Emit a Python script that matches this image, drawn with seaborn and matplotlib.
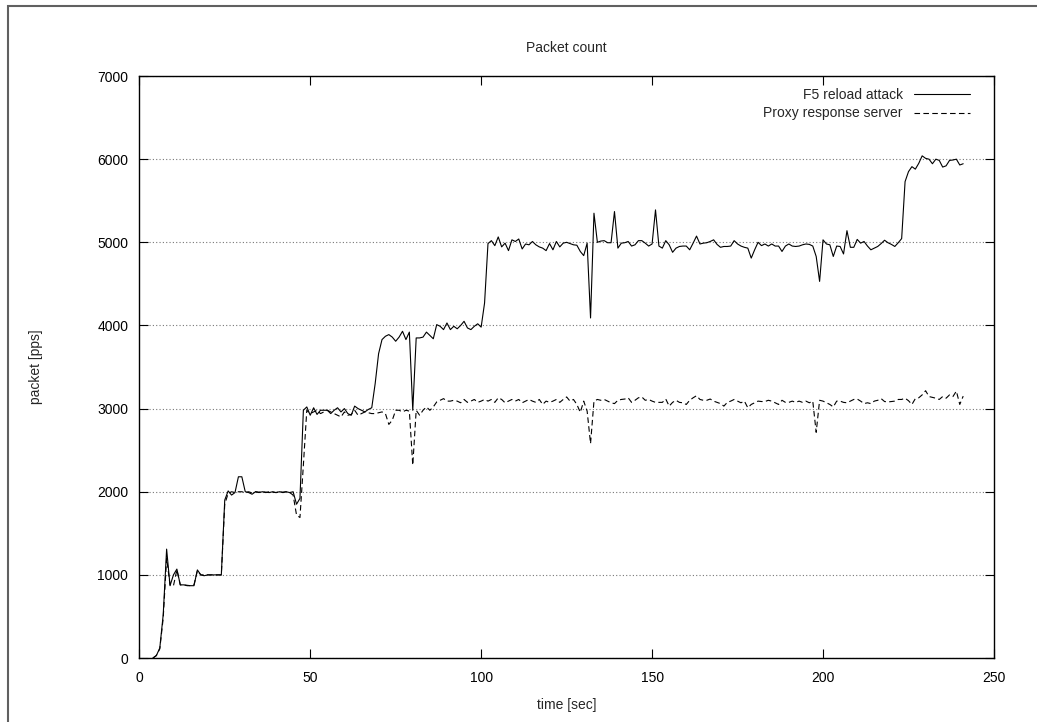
import numpy as np
import matplotlib
matplotlib.use("Agg")
import matplotlib.pyplot as plt
from matplotlib.patches import Rectangle
import seaborn as sns

# Un point par seconde, a partir de t = 4 s
premiere_seconde = 4

f5_reload = [
    0, 30, 120, 520, 1310, 870, 1000, 1070, 880, 880,
    875, 870, 870, 1060, 1000, 990, 1000, 1000, 1000, 1000,
    1000, 1900, 2010, 1960, 1990, 2180, 2180, 2000, 1990, 1970,
    2000, 1990, 2000, 1995, 1990, 2000, 1990, 2000, 1995, 2000,
    1990, 2000, 1850, 1920, 2980, 3020, 2920, 3010, 2930, 2980,
    2980, 2980, 2940, 2980, 3010, 2960, 3000, 2940, 2920, 3030,
    3000, 2980, 2960, 2990, 3010, 3300, 3660, 3830, 3870, 3890,
    3860, 3810, 3860, 3930, 3830, 3920, 2980, 3850, 3850, 3860,
    3920, 3880, 3840, 4010, 3990, 3950, 4030, 3950, 3990, 3960,
    4000, 4050, 3970, 3950, 3990, 4020, 3980, 4270, 4985, 5020,
    4960, 5065, 4945, 4990, 4900, 5030, 5010, 5040, 4920, 4980,
    4970, 5010, 4970, 4945, 4930, 4900, 4985, 4910, 5010, 4945,
    4990, 5000, 4985, 4970, 4965, 4890, 4840, 4990, 4090, 5350,
    5000, 5015, 5020, 4995, 4995, 5370, 4930, 4990, 4995, 5010,
    4955, 4970, 5020, 5020, 4990, 4955, 4980, 5390, 4955, 4930,
    5020, 4970, 4880, 4930, 4950, 4955, 4955, 4910, 4990, 5075,
    4980, 4990, 4995, 5010, 5030, 4975, 4940, 4950, 4950, 4955,
    5020, 4980, 4955, 4940, 4930, 4810, 4910, 5000, 4960, 4980,
    4955, 4980, 4955, 4955, 4890, 4955, 4980, 4955, 4950, 4955,
    4970, 4980, 4975, 4955, 4830, 4530, 5030, 4980, 4970, 4830,
    4955, 4950, 4860, 5140, 4940, 4940, 5035, 4990, 5010, 4955,
    4910, 4930, 4950, 4985, 5025, 4995, 4975, 4950, 4995, 5045,
    5730, 5850, 5910, 5880, 5950, 6040, 6010, 6000, 5945, 6000,
    5985, 5905, 5920, 5985, 5990, 6000, 5930, 5945,
]

proxy_reponse = [
    0, 30, 110, 480, 1200, 880, 870, 1060, 880, 880,
    870, 870, 880, 1050, 1000, 1000, 1000, 1000, 1000, 1000,
    1000, 1850, 1980, 2000, 1990, 2000, 2000, 1990, 2000, 1985,
    2000, 1995, 2000, 1990, 2000, 1995, 1990, 2000, 1990, 2000,
    1990, 1960, 1720, 1690, 2320, 2980, 2940, 2960, 2980, 2940,
    2960, 2980, 2960, 2940, 2920, 2900, 2960, 2920, 2930, 2980,
    2920, 2940, 2960, 2950, 2940, 2940, 2950, 2960, 2940, 2810,
    2860, 2980, 2980, 2960, 2980, 2970, 2320, 2980, 2920, 2980,
    3020, 2980, 3020, 3080, 3100, 3120, 3090, 3090, 3100, 3090,
    3070, 3110, 3075, 3090, 3110, 3075, 3090, 3110, 3090, 3110,
    3075, 3130, 3110, 3070, 3090, 3110, 3090, 3110, 3070, 3090,
    3110, 3090, 3075, 3110, 3050, 3090, 3075, 3090, 3110, 3075,
    3110, 3140, 3090, 3110, 3050, 2955, 3090, 2970, 2580, 3090,
    3110, 3100, 3110, 3090, 3070, 3060, 3100, 3110, 3115, 3130,
    3075, 3100, 3130, 3140, 3100, 3110, 3090, 3075, 3075, 3075,
    3115, 3030, 3075, 3100, 3075, 3070, 3050, 3100, 3130, 3155,
    3110, 3100, 3100, 3115, 3090, 3075, 3060, 3030, 3075, 3090,
    3110, 3090, 3070, 3090, 3010, 3050, 3070, 3090, 3085, 3085,
    3100, 3090, 3070, 3050, 3100, 3075, 3075, 3090, 3075, 3090,
    3075, 3090, 3070, 3090, 2715, 3100, 3090, 3070, 3050, 3020,
    3090, 3090, 3075, 3070, 3090, 3110, 3115, 3090, 3060, 3070,
    3060, 3090, 3100, 3120, 3085, 3080, 3085, 3090, 3110, 3110,
    3125, 3095, 3050, 3120, 3130, 3165, 3215, 3145, 3135, 3125,
    3110, 3145, 3125, 3165, 3145, 3210, 3050, 3150,
]

noms_series = ["F5 reload attack", "Proxy response server"]
graduations_x = [0, 50, 100, 150, 200, 250]
graduations_y = [0, 1000, 2000, 3000, 4000, 5000, 6000, 7000]

sns.set_style("ticks")
plt.rcParams["font.family"] = ["Liberation Sans", "DejaVu Sans"]
plt.rcParams["font.size"] = 10

secondes = np.arange(premiere_seconde, premiere_seconde + len(f5_reload))

fig = plt.figure(figsize=(10.37, 7.22), dpi=100)
ax = fig.add_axes([0.1343, 0.0886, 0.8242, 0.8061])

# Les deux courbes
sns.lineplot(x=secondes, y=f5_reload, color="black", linewidth=0.8,
             label=noms_series[0], ax=ax)
sns.lineplot(x=secondes, y=proxy_reponse, color="black", linewidth=0.8,
             linestyle=(0, (5, 3)), label=noms_series[1], ax=ax)

# Axes, graduations et grille
ax.set_xlim(graduations_x[0], graduations_x[-1])
ax.set_ylim(graduations_y[0], graduations_y[-1])
ax.set_xticks(graduations_x)
ax.set_yticks(graduations_y)
ax.tick_params(direction="in", top=True, right=True, length=6.5, width=0.8,
               colors="black", labelsize=10)
ax.tick_params(axis="y", pad=8)
ax.tick_params(axis="x", pad=9)
ax.yaxis.grid(True, linestyle=(0, (1, 2)), color="#777777", linewidth=0.8)
ax.xaxis.grid(False)
for spine in ax.spines.values():
    spine.set_visible(True)
    spine.set_color("black")
    spine.set_linewidth(1.0)

ax.set_title("Packet count", fontsize=10, pad=17)
ax.set_xlabel("time [sec]", fontsize=10, labelpad=10)
ax.set_ylabel("packet [pps]", fontsize=10, labelpad=39)

# Legende a la gnuplot : texte a gauche, trait a droite
ax.legend(loc="upper right", bbox_to_anchor=(0.972, 0.979), frameon=False,
          markerfirst=False, handlelength=4.0, handletextpad=0.85,
          labelspacing=0.3, borderaxespad=0, borderpad=0, fontsize=10)

# Cadre exterieur (bords gauche et haut visibles)
fig.add_artist(Rectangle((7.5 / 1037, -0.1), 1.2, 1.1 - 5.5 / 722,
                         transform=fig.transFigure, fill=False,
                         edgecolor="#606060", linewidth=1.5, clip_on=False))

fig.savefig("out.png", dpi=100)
